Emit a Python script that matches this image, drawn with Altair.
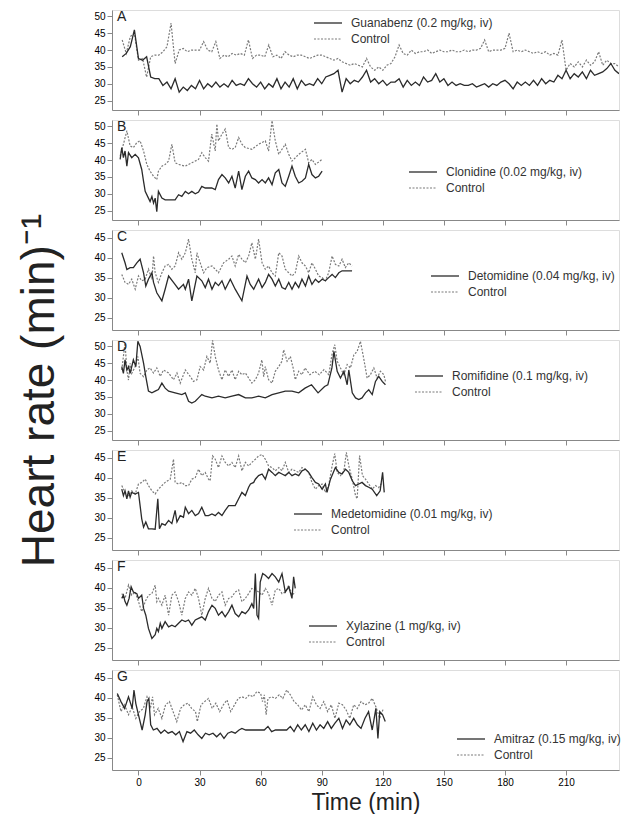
import altair as alt
import pandas as pd

FONT = "Liberation Sans"
DRUG_COLOR = "#2b2b2b"
CTRL_COLOR = "#7a7a7a"
TEXT_COLOR = "#333333"

X_DOMAIN = [-13, 236]
X_TICKS = [0, 30, 60, 90, 120, 150, 180, 210]
Y_TICKS_50 = [25, 30, 35, 40, 45, 50]
Y_TICKS_45 = [25, 30, 35, 40, 45]

# ---------------- Panel A : Guanabenz (2-min sampling grid) ----------------
A_time = list(range(-8, 237, 2))
A_guanabenz = [
    38, 39, 41, 46, 37.5, 37, 38, 32, 31.5, 31.5,
    29.5, 30.5, 28.5, 31.5, 27.5, 29, 28, 29.5, 28.5, 31,
    28.5, 30, 29, 30.5, 29, 30, 29, 31, 29.5, 30,
    29.5, 31.5, 30, 29, 30.5, 28.5, 30, 29, 31.5, 28.5,
    30.5, 29, 31.5, 28.5, 31, 29.5, 30, 29.5, 31.5, 30,
    32, 32.5, 33, 34, 27.5, 31.5, 30, 31, 30.5, 32,
    34, 30.5, 31.5, 30, 31, 29.5, 30.5, 30.5, 31.5, 29,
    31, 29.5, 30.5, 29.5, 32, 30.5, 31, 33, 30.5, 31.5,
    29.5, 30.5, 29.5, 30, 29.5, 29.5, 30, 29, 29.5, 30,
    29, 30, 29.5, 30.5, 31, 30, 28.5, 30.5, 29.5, 30.5,
    29.5, 31, 29.5, 31.5, 30, 31, 30.5, 32.5, 31.5, 34,
    31.5, 33, 32, 33.5, 31.5, 34, 32.5, 33, 33.5, 34.5,
    36, 34, 33,
]
A_control = [
    43, 39, 44, 45, 37, 37.5, 32, 38, 38.5, 38.5,
    39.5, 41, 48, 36, 40, 40.5, 39.5, 40, 40, 40,
    42.5, 40, 39.5, 42.5, 37.5, 38.5, 38, 39, 38.5, 39,
    38.5, 43, 37.5, 38.5, 38.5, 38, 41.5, 38, 38.5, 37.5,
    39.5, 38.5, 38, 38.5, 38.5, 38, 37.5, 38, 38.5, 38.5,
    38, 37.5, 37, 37.5, 36.5, 36, 35.5, 36, 35.5, 35,
    37.5, 35, 34, 35, 34, 35.5, 36, 38, 41.5, 39,
    38.5, 40, 39, 39.5, 39.5, 40, 39, 39.5, 40, 39.5,
    39.5, 40, 39.5, 39.5, 40, 39.5, 40, 40, 40.5, 43,
    39.5, 40, 40, 40, 40.5, 45, 39.5, 40, 39.5, 40,
    39.5, 39, 39.5, 39, 39.5, 38.5, 39, 38.5, 43, 34,
    36, 35, 36.5, 35, 37, 35.5, 36.5, 39.5, 35.5, 37,
    36, 36, 35,
]

# ---------------- Panel B : Clonidine (time, value) ----------------
B_clonidine = [
    (-9, 40.2), (-8.2, 43.7), (-7.4, 40.7), (-6.6, 42.7), (-5.7, 38.2), (-4.9, 42.2),
    (-3.3, 40.7), (-1.6, 41.7), (0, 40.7), (1.6, 37.2), (2.5, 33.7), (3.3, 30.7),
    (4.9, 28.7), (5.7, 27.7), (6.6, 29.2), (7.4, 27.2), (8.2, 28.7), (9, 24.7),
    (9.8, 30.7), (11.5, 28.7), (13.1, 28.2), (18, 28.2), (19.7, 29.7), (21.3, 29.2),
    (23, 30.7), (24.6, 30), (26.2, 30.7), (27.9, 30), (29.5, 30.5), (31.1, 32.2),
    (32.8, 31.7), (36, 31.7), (37.7, 31.2), (39.3, 34.2), (41, 35.7), (42.6, 34.7),
    (44.3, 33.2), (45.9, 35.2), (47.5, 31.7), (49.2, 36.7), (50.8, 31.2), (52.5, 35.2),
    (54.1, 36.7), (55.7, 34.7), (57.4, 34.2), (59, 33.2), (60.7, 34.2), (62.3, 33.2),
    (63.9, 34.7), (65.6, 32.7), (67.2, 36.2), (68.9, 37.2), (70.5, 33.2), (72.1, 32.2),
    (73.8, 35.2), (75.4, 38.2), (77, 35.2), (78.7, 33.2), (80.3, 33.7), (82, 34.7),
    (83.6, 38.7), (85.2, 35.7), (86.9, 34.7), (88.5, 35.2), (90.2, 36.7),
]
B_control = [
    (-9, 41.2), (-7.4, 44.7), (-5.7, 48.7), (-4.1, 44.2), (-2.5, 43.7), (-0.8, 45.2),
    (0.8, 45.7), (2.5, 42.7), (4.1, 38.7), (5.7, 36.7), (7.4, 35.2), (9, 34.2),
    (9.8, 36.7), (11.5, 38.2), (13.1, 38.7), (14.8, 39.7), (16.4, 44.7), (18, 39.2),
    (19.7, 38.7), (23, 38.2), (26.2, 39.2), (29.5, 40.2), (31.1, 42.2), (32.8, 40.7),
    (34.4, 39.7), (36, 47.7), (37.7, 42.7), (38.5, 50.7), (39.3, 45.7), (41, 47.7),
    (42.6, 49.2), (44.3, 43.7), (45.9, 43.2), (47.5, 43.7), (49.2, 46.7), (50.8, 44.7),
    (52.5, 43.7), (55.7, 43.2), (59, 44.7), (62.3, 45.7), (63.9, 42.7), (65.6, 51.7),
    (67.2, 45.7), (68.9, 41.7), (72.1, 44.7), (73.8, 41.7), (75.4, 39.7), (78.7, 41.7),
    (82, 43.2), (83.6, 39.2), (85.2, 40.2), (86.9, 38.7), (90.2, 40.2),
]

# ---------------- Panel C : Detomidine ----------------
C_detomidine = [
    (-8.2, 41.2), (-6.6, 38.7), (-5.7, 37), (-4.1, 37.5), (-2.5, 37.5), (-0.8, 38.7),
    (0.8, 39.6), (2.5, 36.2), (3.6, 32.9), (4.9, 34.6), (6.6, 36.2), (7.4, 33.8),
    (9, 31.2), (11.5, 29.2), (13.1, 32.1), (14.8, 35.4), (17.2, 33.8), (19.7, 32.1),
    (22.1, 33.3), (23, 32.1), (24.6, 34.6), (26.2, 29.2), (28.7, 35.4), (31.1, 34.2),
    (32.8, 32.5), (34.4, 34.6), (36.1, 32.1), (37.7, 33.8), (39.3, 33), (41, 34.2),
    (42.6, 32.1), (45.1, 34.6), (47.5, 32.1), (50.8, 29.2), (53.3, 35.4), (54.9, 33.3),
    (56.6, 32.1), (59, 34.6), (60.7, 32.5), (62.3, 33.8), (63.9, 35.8), (65.6, 34.6),
    (67.2, 32.9), (68.9, 34.6), (70.5, 32.5), (72.1, 32.1), (73.8, 33.8), (75.4, 32.1),
    (77, 33.8), (78.7, 32.5), (80.3, 34.6), (82, 32.9), (83.6, 35.4), (85.2, 33.3),
    (86.9, 34.6), (88.5, 33.8), (90.2, 34.6), (91.8, 34.2), (93.4, 35), (95.1, 35.8),
    (96.7, 35), (98.4, 36.2), (100, 36.7), (104.9, 36.7),
]
C_control = [
    (-8.2, 35.8), (-6.6, 33.8), (-4.9, 33.3), (-3.3, 34.6), (-1.6, 32.1), (0, 35.4),
    (1.6, 34.2), (3.3, 34.6), (4.9, 37.1), (6.6, 34.6), (7.4, 40.4), (8.2, 36.2),
    (9.8, 33.8), (11.5, 36.2), (13.1, 37.9), (14.8, 38.3), (16.4, 37.1), (18, 37.9),
    (19.7, 41.2), (21.3, 39.6), (23, 41.2), (24.6, 44.6), (26.2, 39.6), (27.9, 36.2),
    (28.7, 41.2), (30.3, 38.7), (32, 36.2), (33.6, 37.5), (36.1, 37.9), (37.7, 37.1),
    (39.3, 36.2), (41.8, 38.7), (44.3, 39.6), (45.9, 40.4), (47.5, 37.9), (49.2, 40.8),
    (50.8, 39.6), (52.5, 38.7), (54.1, 40.4), (55.7, 43.7), (57.4, 39.6), (59, 44.6),
    (60.7, 38.7), (62.3, 37.1), (63.9, 37.9), (65.6, 36.2), (67.2, 35.4), (68.9, 41.2),
    (70.5, 40.4), (72.1, 37.1), (73.8, 36.2), (75.4, 35.4), (77, 36.2), (78.7, 40.4),
    (80.3, 38.7), (82, 37.9), (83.6, 36.2), (85.2, 38.7), (86.9, 37.1), (88.5, 35.4),
    (90.2, 35), (91.8, 34.2), (93.4, 36.2), (95.1, 40.4), (96.7, 38.3), (98.4, 37.9),
    (100, 39.6), (101.6, 37.5), (103.3, 38.7), (104.9, 37.9),
]

# ---------------- Panel D : Romifidine ----------------
D_romifidine = [
    (-8.2, 44), (-7.4, 42), (-6.6, 46), (-5.7, 43), (-4.9, 44), (-4.1, 42),
    (-2.5, 46), (-1.3, 44), (-0.3, 51.5), (0.8, 50), (2.5, 45), (3.6, 41),
    (4.9, 36.7), (6.6, 36.2), (8.2, 36.7), (9.8, 37.2), (11.5, 39.1), (13.1, 37.6),
    (14.8, 36.7), (18, 36.2), (21.3, 35.7), (23, 36.2), (24.6, 33.7), (26.2, 33.2),
    (27.9, 33.7), (29.5, 34.7), (31.1, 35.7), (32.8, 35.2), (36.1, 34.7), (39.3, 35.2),
    (42.6, 34.7), (45.9, 35.2), (49.2, 35.7), (52.5, 34.7), (55.7, 34.7), (59, 35.2),
    (62.3, 34.7), (65.6, 35.7), (68.9, 36.2), (72.1, 36.7), (75.4, 36.7), (78.7, 36.2),
    (81.8, 37.6), (85, 38.6), (88.2, 36.2), (91.4, 38.1), (93, 38.6), (95, 43.6),
    (96, 48.5), (97.6, 42.6), (99.2, 40.6), (100.9, 42.6), (102.5, 38.6), (103.3, 43),
    (105, 36.2), (106.6, 34.7), (108.2, 34.2), (109.8, 34.7), (111.5, 36.2), (113.1, 37.1),
    (114.8, 35.7), (116.4, 39.6), (118, 41.1), (119.7, 39.6), (121.3, 38.6),
]
D_control = [
    (-8.2, 43), (-7.4, 47), (-6.6, 51), (-5.7, 43), (-4.9, 40), (-4.1, 45),
    (-3.3, 42), (-1.6, 44), (-0.3, 47), (0.8, 42), (2.5, 41), (4.1, 43),
    (5.7, 43.6), (7.4, 42.1), (9, 43.6), (10.7, 41.1), (12.3, 43), (14.8, 42.1),
    (17.2, 40.1), (18.9, 42.1), (20.5, 39.1), (23, 43), (25.4, 41.1), (27, 39.6),
    (28.7, 40.1), (30.3, 44), (32, 43), (33.6, 47), (35.2, 45), (36.4, 51.8),
    (37.7, 47), (39.3, 43), (41, 40.1), (42.6, 43), (44.3, 41.1), (45.9, 43),
    (47.5, 40.1), (49.2, 42.6), (50.8, 41.6), (52.5, 42.1), (54.1, 40.6), (55.7, 39.1),
    (57.4, 40.1), (59, 42.1), (60.6, 46), (61.5, 41), (62.3, 44), (63.9, 40.1),
    (65.6, 39.1), (67.2, 42.6), (68.9, 44), (70.5, 45.6), (71.3, 49), (73, 45.6),
    (74.6, 47), (76.2, 43), (77, 40.1), (78.7, 42.6), (80.3, 41.6), (81.8, 43.6),
    (84.2, 41.6), (86.6, 42.6), (88.8, 41.6), (91.1, 43.1), (93.5, 41.6), (95, 47.5),
    (96.4, 50.5), (97.6, 45.6), (99.2, 43.6), (100.9, 41.6), (102.5, 44.6), (104.1, 43.6),
    (105.8, 47.5), (107.4, 48.5), (109, 51.5), (110.6, 46.5), (112.3, 40.6), (113.9, 41.6),
    (115.6, 43.6), (117.2, 40.6), (118.8, 42.6), (120.5, 41.6), (121.3, 39.6),
]

# ---------------- Panel E : Medetomidine ----------------
E_medetomidine = [
    (-8.2, 37.1), (-7.4, 35.5), (-6.6, 36.7), (-5.7, 34.7), (-4.9, 36.7), (-4.1, 35.1),
    (-3.3, 36.3), (-1.6, 35.9), (0, 36.3), (0.8, 33), (1.6, 29.7), (2.5, 27.6),
    (3.6, 28.9), (4.9, 27.2), (6.6, 27.2), (8.2, 27.1), (9.5, 34.7), (10.3, 27.2),
    (11.5, 28.5), (13.1, 28.1), (14.8, 29.3), (16.4, 28.5), (18, 31.8), (18.9, 28.9),
    (20.5, 30.5), (22.1, 30.1), (23, 32.6), (24.6, 31), (26.2, 31.8), (27.9, 30.5),
    (29.5, 31), (31.1, 32.6), (32.8, 30.5), (34.4, 30.5), (36.1, 30.9), (37.7, 30.5),
    (39.3, 31.3), (41, 30.5), (42.6, 31.8), (44.3, 33), (45.9, 33), (47.5, 33),
    (49.2, 34.7), (50.8, 36.3), (52.5, 35.5), (54.1, 37.6), (55, 38.4), (56.6, 38.8),
    (57.4, 39.6), (59, 40.5), (60.7, 40.9), (62.3, 39.6), (63.9, 42.1), (65.6, 41.3),
    (67.2, 40.5), (68.9, 41.3), (70.5, 40.9), (72.1, 40.5), (73.8, 41.3), (75.4, 40.5),
    (77, 40.9), (78.7, 40.5), (80.3, 41.7), (82, 42.1), (83.6, 41.3), (85.2, 40),
    (86.9, 38.8), (88.5, 38.4), (90.2, 37.1), (91.8, 38.4), (92.6, 36.3), (94.3, 39.6),
    (96.7, 42.5), (98.4, 41.3), (100, 40.9), (101.7, 42.1), (103.3, 41.3), (105, 39.2),
    (106.6, 38), (108.2, 38.4), (109.8, 38.8), (111.5, 38), (113.1, 37.6), (114.8, 37.1),
    (117, 35.5), (118.7, 36.7), (119.9, 41.3), (120.7, 36.3),
]
E_control = [
    (-8.2, 38), (-6.6, 36.3), (-4.9, 35.5), (-3.3, 36.7), (-1.6, 35.9), (0, 38.4),
    (1.6, 38.8), (3.3, 39.6), (4.9, 38), (6.6, 36.7), (8.2, 35.9), (9.8, 37.1),
    (11.5, 38), (13.1, 38.8), (15.6, 39.6), (17.2, 44.6), (18, 38.8), (19.7, 38.4),
    (21.3, 38.8), (23, 38), (24.6, 38), (26.2, 39.6), (27.9, 40), (29.5, 42.1),
    (31.1, 40.5), (32.8, 41.3), (34.4, 39.6), (35.2, 39.2), (36.4, 45.4), (37.7, 44.6),
    (39.3, 42.5), (41, 45.4), (42.6, 43.8), (44.3, 42.9), (45.9, 43.8), (47.5, 42.5),
    (49.2, 45.4), (50.8, 41.7), (52.5, 43.8), (54.1, 42.9), (55.7, 43.8), (57.4, 44.6),
    (59, 45.4), (60.7, 45.8), (62.3, 44.6), (63.9, 42.9), (65.6, 42.5), (67.2, 41.7),
    (68.9, 42.5), (70.5, 41.7), (72.1, 43.8), (73.8, 41.3), (75.4, 42.1), (77, 41.7),
    (78.7, 41.3), (80.3, 42.5), (82, 42.1), (83.6, 41.3), (85.2, 38.8), (86.9, 37.1),
    (88.5, 38), (90.2, 38.4), (91.8, 36.3), (93.4, 38), (95.1, 42.9), (96.4, 46),
    (97.6, 41.3), (99.2, 40.5), (100.9, 41.7), (102.1, 46.3), (103.5, 42.5), (105, 39.6),
    (106.6, 35.5), (107.4, 34.7), (108.6, 45.5), (110, 40.5), (111.5, 39.6), (113.1, 38.4),
    (114.8, 37.1), (116.4, 38), (118, 37.5), (119.7, 38.8),
]

# ---------------- Panel F : Xylazine ----------------
F_xylazine = [
    (-8.2, 37.3), (-7.4, 38.1), (-6.6, 36.5), (-5.7, 35.6), (-4.6, 37.3), (-3.6, 40.2),
    (-2.5, 38.9), (-0.8, 38.5), (0, 37.3), (1.6, 38.1), (2.5, 34.8), (3.6, 33.1),
    (4.9, 29.8), (6.6, 27.3), (8.2, 28.2), (9, 29.8), (9.8, 29), (10.7, 31.1),
    (11.5, 29.8), (13.1, 31.5), (14.8, 30.2), (16.4, 30.6), (18, 30.2), (19.7, 31.1),
    (21.3, 31.9), (23, 31.5), (24.6, 31.9), (26.2, 30.6), (27.9, 31.9), (29.5, 32.3),
    (31.1, 32.7), (32.8, 31.9), (34.4, 34), (36.1, 35.6), (37.7, 34.8), (39.3, 33.1),
    (41, 34), (42.6, 32.7), (44.3, 34), (45.9, 35.6), (47.5, 33.5), (49.2, 32.7),
    (50.8, 34), (52.5, 33.5), (54.1, 34.4), (55.7, 36), (56.6, 34.8), (57.4, 43.5),
    (58.2, 33.1), (59, 32.3), (59.8, 41.4), (61, 43.5), (62.3, 43.1), (63.9, 42.3),
    (65.6, 43.5), (67.2, 42.7), (68.9, 41.4), (70.5, 43.5), (72.1, 38.9), (73.8, 40.2),
    (75.4, 37.3), (76.2, 42.7), (77, 39.8),
]
F_control = [
    (-8.2, 38.5), (-6.6, 37.3), (-4.9, 40.6), (-3.3, 38.1), (-1.6, 38.9), (0, 36.5),
    (1.6, 34), (3.3, 36.5), (4.9, 38.1), (6.6, 38.5), (8.2, 40.6), (9, 36.5),
    (9.8, 37.3), (11.5, 35.6), (13.1, 38.1), (14.8, 33.1), (16.4, 38.1), (18, 38.9),
    (19.7, 36.5), (21.3, 33.1), (23, 37.3), (24.6, 38.9), (26.2, 38.1), (27.9, 39.8),
    (29.5, 37.3), (31.1, 33.1), (32.8, 37.3), (34.4, 39.8), (36.1, 37.3), (37.7, 36.5),
    (39.3, 38.1), (41, 38.9), (42.6, 35.6), (44.3, 37.3), (45.9, 37.7), (47.5, 38.9),
    (49.2, 39.4), (50.8, 36.5), (52.5, 37.3), (54.1, 38.5), (55.7, 39.8), (57.4, 39.4),
    (59, 38.9), (60.7, 38.1), (62.3, 39.8), (63.9, 38.5), (65.6, 35.6), (67.2, 39.4),
    (68.9, 39.8), (70.5, 38.5), (72.1, 38.9), (73.8, 40.6), (75.4, 38.1), (77, 38.9),
]

# ---------------- Panel G : Amitraz ----------------
G_amitraz = [
    (-10.4, 41), (-8.6, 39), (-6.8, 37.3), (-4.9, 40.2), (-3.1, 37.3), (-2.2, 41.9),
    (-1.3, 38.5), (0, 35.7), (1.8, 31.9), (3.3, 35.7), (4.2, 39), (5.1, 39.8),
    (6, 33.2), (7.3, 31.9), (9.1, 32.3), (11, 31.1), (12.8, 31.9), (14.6, 31.1),
    (16.5, 31.5), (18.3, 30.7), (20.1, 31.5), (21.9, 29), (23.8, 31.5), (25.6, 31.1),
    (27.4, 31.9), (29.3, 30.7), (31.1, 29.8), (32.9, 31.1), (34.7, 30.7), (36.6, 31.1),
    (38.4, 30.2), (40.2, 31.1), (42, 29.8), (43.9, 31.1), (45.7, 31.5), (47.5, 31.1),
    (49.4, 31.9), (50.8, 32.3), (52.7, 31.9), (61.8, 31.9), (63.6, 32.8), (65.4, 31.5),
    (67.3, 31.9), (72.8, 31.9), (74.6, 32.8), (76.4, 31.5), (78.2, 33.2), (80, 31.9),
    (81.9, 33.2), (83.7, 31.5), (85.6, 33.6), (87.4, 31.9), (89.2, 33.2), (91, 32.3),
    (92.9, 34), (94.7, 32.3), (96.5, 33.6), (98.4, 34.8), (100.2, 32.3), (102, 34.4),
    (103.8, 33.2), (105.7, 34.8), (107.5, 33.2), (109.3, 32.3), (111.2, 34.8), (113, 36.5),
    (114.8, 31.9), (116.6, 37.3), (117.6, 29.8), (118.5, 36.5), (119.9, 35.7), (121.2, 34),
]
G_control = [
    (-10.4, 40.7), (-8.6, 36.5), (-6.8, 38.2), (-4.9, 35.7), (-3.1, 37.7), (-1.3, 34.8),
    (0.5, 36.5), (2.4, 37.3), (4.2, 40.2), (6, 37.7), (6.9, 40.2), (7.9, 35.7),
    (9.7, 37.3), (11.5, 34.8), (13.3, 38.2), (15.2, 39), (17, 36.5), (18.8, 34),
    (20.7, 37.3), (22.5, 38.2), (24.3, 38.6), (26.1, 37.3), (28, 36.5), (28.9, 34),
    (30.7, 38.2), (32.5, 39), (34.4, 39.8), (36.2, 37.3), (38, 38.6), (39.9, 36.5),
    (41.7, 38.2), (43.5, 39.4), (45.3, 36.5), (47.2, 38.2), (49, 39.8), (50.8, 40.2),
    (52.7, 39.8), (54.5, 40.7), (56.3, 40.2), (58.1, 41.5), (60, 41.1), (60.9, 39),
    (61.8, 40.7), (62.7, 35.7), (63.6, 39.8), (65.4, 40.2), (67.3, 39.8), (69.1, 40.7),
    (70.9, 39.8), (72.8, 41.9), (74.6, 40.7), (76.4, 39), (78.2, 38.2), (80.1, 36.9),
    (81.9, 38.2), (83.7, 36.5), (85.6, 40.2), (87.4, 38.2), (89.2, 37.3), (91, 39),
    (92.9, 36.5), (94.7, 38.2), (96.5, 34.8), (98.4, 38.6), (100.2, 38.2), (102, 36.9),
    (103.8, 34.8), (105.7, 38.2), (107.5, 37.3), (109.3, 39), (111.2, 38.2), (113, 38.6),
    (114.8, 39.8), (116.6, 37.7), (118.5, 34.8), (120.3, 37.3),
]

PLOT_W = 507
PLOT_H = 100


def make_panel(letter, drug_label, drug_pts, ctrl_pts, tall, leg_x, leg_y,
               last=False, ytitle=False):
    ydom = [22.2, 51.9] if tall else [21.9, 46.9]
    yticks = Y_TICKS_50 if tall else Y_TICKS_45
    drug_df = pd.DataFrame(drug_pts, columns=["t", "hr"])
    ctrl_df = pd.DataFrame(ctrl_pts, columns=["t", "hr"])

    xaxis_kw = dict(values=X_TICKS, labels=last, grid=False)
    if last:
        xaxis_kw.update(titleFontSize=23, titleFont=FONT,
                        titleFontWeight="normal", titleColor="#222222",
                        titlePadding=4, labelPadding=2)
    x_enc = alt.X("t:Q", scale=alt.Scale(domain=X_DOMAIN, nice=False, zero=False),
                  axis=alt.Axis(**xaxis_kw), title="Time (min)" if last else None)
    yaxis_kw = dict(values=yticks, grid=False)
    if ytitle:
        yaxis_kw.update(titleFontSize=46, titleFont=FONT, titleFontWeight="normal",
                        titleColor="#222222", titlePadding=30)
    y_enc = alt.Y("hr:Q", scale=alt.Scale(domain=ydom, nice=False, zero=False),
                  axis=alt.Axis(**yaxis_kw),
                  title="Heart rate (min)\u207b\u00b9" if ytitle else None)

    ctrl_line = alt.Chart(ctrl_df).mark_line(
        clip=True, color=CTRL_COLOR, strokeWidth=1.2, strokeDash=[2, 1.5]
    ).encode(x=x_enc, y=y_enc)
    drug_line = alt.Chart(drug_df).mark_line(
        clip=True, color=DRUG_COLOR, strokeWidth=1.3
    ).encode(x=x_enc, y=y_enc)

    one = alt.Chart(pd.DataFrame({"k": [0]}))
    letter_txt = one.mark_text(align="left", baseline="middle", fontSize=14,
                               font=FONT, color="#222222").encode(
        x=alt.value(5), y=alt.value(7), text=alt.value(letter))
    r1 = one.mark_rule(color=DRUG_COLOR, strokeWidth=1.3).encode(
        x=alt.value(leg_x), x2=alt.value(leg_x + 28), y=alt.value(leg_y))
    r2 = one.mark_rule(color=CTRL_COLOR, strokeWidth=1.2, strokeDash=[2, 1.5]).encode(
        x=alt.value(leg_x), x2=alt.value(leg_x + 28), y=alt.value(leg_y + 16))
    t1 = one.mark_text(align="left", baseline="middle", fontSize=12, font=FONT,
                       color=TEXT_COLOR).encode(
        x=alt.value(leg_x + 37), y=alt.value(leg_y), text=alt.value(drug_label))
    t2 = one.mark_text(align="left", baseline="middle", fontSize=12, font=FONT,
                       color=TEXT_COLOR).encode(
        x=alt.value(leg_x + 37), y=alt.value(leg_y + 16), text=alt.value("Control"))

    return alt.layer(ctrl_line, drug_line, letter_txt, r1, r2, t1, t2).properties(
        width=PLOT_W, height=PLOT_H)


A_pts = list(zip(A_time, A_guanabenz))
A_ctrl_pts = list(zip(A_time, A_control))

panels = [
    make_panel("A", "Guanabenz (0.2 mg/kg, iv)", A_pts, A_ctrl_pts, True, 202, 13),
    make_panel("B", "Clonidine (0.02 mg/kg, iv)", B_clonidine, B_control, True, 297, 52),
    make_panel("C", "Detomidine (0.04 mg/kg, iv)", C_detomidine, C_control, False, 319, 46),
    make_panel("D", "Romifidine (0.1 mg/kg, iv)", D_romifidine, D_control, True, 303, 36,
               ytitle=True),
    make_panel("E", "Medetomidine (0.01 mg/kg, iv)", E_medetomidine, E_control, False, 182, 64),
    make_panel("F", "Xylazine (1 mg/kg, iv)", F_xylazine, F_control, False, 197, 66),
    make_panel("G", "Amitraz (0.15 mg/kg, iv)", G_amitraz, G_control, False, 345, 69,
               last=True),
]

chart = alt.vconcat(*panels, spacing=10, bounds="flush").properties(
    padding={"left": 8, "top": 1, "right": 5, "bottom": 0}
).configure_view(stroke=None).configure_axis(
    domainColor="#555555", domainWidth=1.5, tickColor="#555555", tickWidth=1.2,
    tickSize=4, labelFont=FONT, labelFontSize=11, labelColor="#333333", labelPadding=2,
    grid=False
).configure(background="white")

chart.save("out.html", embed_options={"renderer": "svg", "actions": False})
